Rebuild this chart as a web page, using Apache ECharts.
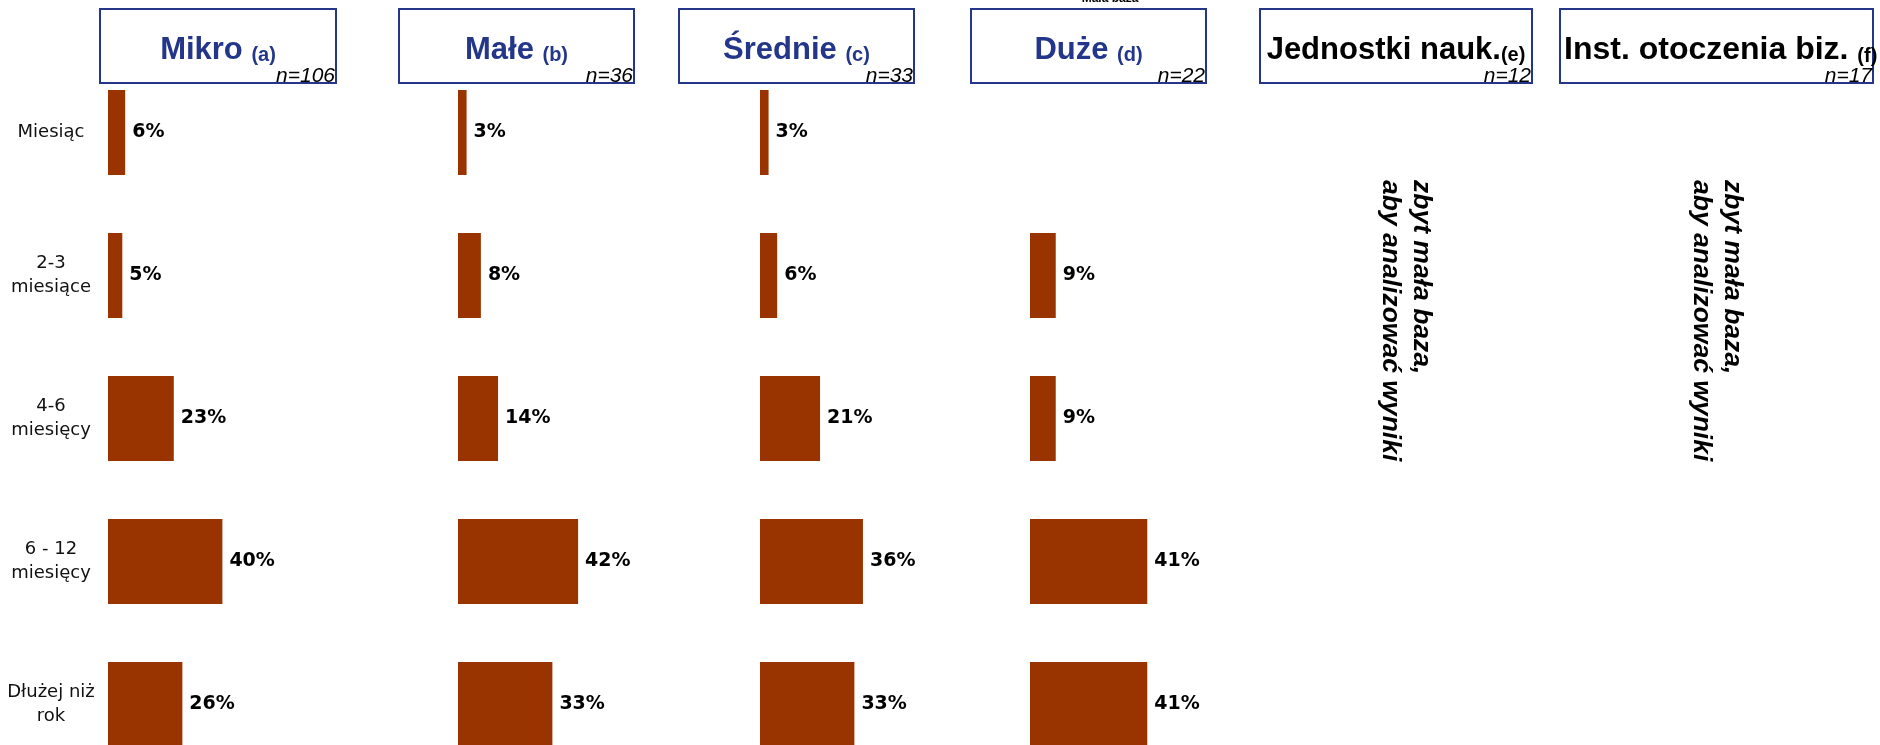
<!DOCTYPE html>
<html>
<head>
<meta charset="utf-8">
<script src="https://cdn.jsdelivr.net/npm/echarts@6/dist/echarts.min.js"></script>
<style>
  html, body { margin: 0; padding: 0; background: #fff; overflow: hidden; }
  /* the last row of bars runs past the lower edge of the window */
  #chart { width: 1880px; height: 776px; }
</style>
</head>
<body>
<div id="chart"></div>
<script>
// Czas trwania – odpowiedzi wg wielkości / typu podmiotu (%)
const categories = ['Miesiąc', '2-3\nmiesiące', '4-6\nmiesięcy', '6 - 12\nmiesięcy', 'Dłużej niż\nrok'];

const mikro   = [6, 5, 23, 40, 26];
const male    = [3, 8, 14, 42, 33];
const srednie = [3, 6, 21, 36, 33];
const duze    = ['-', 9, 9, 41, 41];

const panelNames   = ['Mikro', 'Małe', 'Średnie', 'Duże', 'Jednostki nauk.', 'Inst. otoczenia biz.'];
const panelLetters = ['(a)', '(b)', '(c)', '(d)', '(e)', '(f)'];
const panelN       = ['n=106', 'n=36', 'n=33', 'n=22', 'n=12', 'n=17'];
const smallBaseNote = 'zbyt mała baza,\naby analizować wyniki';
const smallBaseTag  = 'Mała baza';

const barSeries = [mikro, male, srednie, duze];

// layout of the panels (px)
const barLeft = [108, 458, 760, 1030];
const boxes = [
  { x: 100,  w: 236 },
  { x: 399,  w: 235 },
  { x: 679,  w: 235 },
  { x: 971,  w: 235 },
  { x: 1260, w: 272 },
  { x: 1560, w: 313 }
];
const navy = '#24368a';
const barColor = '#993300';

const grids = [], xAxes = [], yAxes = [], series = [];
barSeries.forEach((vals, i) => {
  grids.push({ left: barLeft[i], top: 61, width: 286, height: 715, containLabel: false });
  xAxes.push({ gridIndex: i, type: 'value', min: 0, max: 100, show: false });
  yAxes.push({
    gridIndex: i, type: 'category', data: categories, inverse: true,
    show: i === 0,
    axisLine: { show: false }, axisTick: { show: false }, splitLine: { show: false },
    axisLabel: {
      show: i === 0, align: 'center', margin: 57,
      fontFamily: 'DejaVu Sans', fontSize: 18, lineHeight: 24, color: '#111'
    }
  });
  series.push({
    type: 'bar', xAxisIndex: i, yAxisIndex: i, data: vals,
    barWidth: 85, itemStyle: { color: barColor },
    label: {
      show: true, position: 'right', distance: 7, formatter: '{c}%',
      fontFamily: 'DejaVu Sans', fontWeight: 'bold', fontSize: 19, color: '#000'
    },
    animation: false, silent: true
  });
});

const graphics = [];
boxes.forEach((b, i) => {
  const dark = i >= 4;
  const col = dark ? '#000' : navy;
  graphics.push({
    type: 'rect', shape: { x: b.x, y: 9, width: b.w, height: 74 },
    style: { fill: 'none', stroke: navy, lineWidth: 2 }, silent: true
  });
  const sep = i === 4 ? '' : ' ';
  graphics.push({
    type: 'text',
    x: i === 5 ? b.x + 4 : b.x + b.w / 2, y: 50,
    style: {
      text: '{t|' + panelNames[i] + sep + '}{s|' + panelLetters[i] + '}',
      align: i === 5 ? 'left' : 'center', verticalAlign: 'middle',
      rich: {
        t: { fontFamily: 'Liberation Sans', fontWeight: 'bold', fontSize: i === 5 ? 32 : 31, fill: col, verticalAlign: 'bottom' },
        s: { fontFamily: 'Liberation Sans', fontWeight: 'bold', fontSize: 20, fill: col, verticalAlign: 'bottom' }
      }
    }, silent: true
  });
  graphics.push({
    type: 'text', x: b.x + b.w - 1, y: 87,
    style: {
      text: panelN[i], align: 'right', verticalAlign: 'bottom',
      font: 'italic 21px "Liberation Sans"', fill: '#000'
    }, silent: true
  });
});

// notes for panels with too small sample
[1406, 1717].forEach(cx => {
  graphics.push({
    type: 'text', x: cx, y: 180, rotation: -Math.PI / 2,
    style: {
      text: smallBaseNote, align: 'left', verticalAlign: 'middle',
      font: 'italic bold 26.5px "Liberation Sans"', lineHeight: 31, fill: '#000'
    }, silent: true
  });
});

graphics.push({
  type: 'text', x: 1110, y: 5,
  style: { text: smallBaseTag, align: 'center', verticalAlign: 'bottom', font: 'bold 12px "Liberation Sans"', fill: '#000' },
  silent: true
});

const chart = echarts.init(document.getElementById('chart'), null, { renderer: 'canvas' });
chart.setOption({
  backgroundColor: '#fff',
  animation: false,
  grid: grids,
  xAxis: xAxes,
  yAxis: yAxes,
  series: series,
  graphic: graphics
});
</script>
</body>
</html>
